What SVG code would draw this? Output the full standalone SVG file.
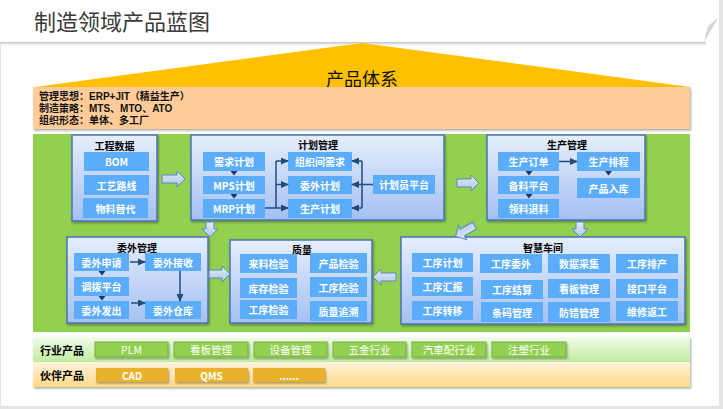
<svg xmlns="http://www.w3.org/2000/svg" width="723" height="409" viewBox="0 0 723 409">
<defs>
  <linearGradient id="gPanel" x1="0" y1="0" x2="0" y2="1">
    <stop offset="0" stop-color="#E6EEFC"/>
    <stop offset="1" stop-color="#A4C0F2"/>
  </linearGradient>
  <linearGradient id="gArrow" x1="0" y1="0" x2="0" y2="1">
    <stop offset="0" stop-color="#E2EBF7"/>
    <stop offset="1" stop-color="#AFC6E8"/>
  </linearGradient>
  <linearGradient id="gInd" x1="0" y1="0" x2="0" y2="1">
    <stop offset="0" stop-color="#F1FBEA"/>
    <stop offset="1" stop-color="#C0EC9F"/>
  </linearGradient>
  <linearGradient id="gPart" x1="0" y1="0" x2="0" y2="1">
    <stop offset="0" stop-color="#FFF3DF"/>
    <stop offset="1" stop-color="#FFD985"/>
  </linearGradient>
  <linearGradient id="gShadow" x1="0" y1="0" x2="0" y2="1">
    <stop offset="0" stop-color="#BDBDBD"/>
    <stop offset="1" stop-color="#FFFFFF" stop-opacity="0"/>
  </linearGradient>
  <linearGradient id="gCurl" x1="0" y1="0" x2="1" y2="1">
    <stop offset="0" stop-color="#F5F5F5"/>
    <stop offset="1" stop-color="#A8A8A8"/>
  </linearGradient>
  <filter id="sh" x="-10%" y="-10%" width="120%" height="130%">
    <feDropShadow dx="1" dy="1.5" stdDeviation="1" flood-color="#000" flood-opacity="0.35"/>
  </filter>
  <marker id="ah" markerWidth="8" markerHeight="7" refX="7" refY="3.5" orient="auto" markerUnits="userSpaceOnUse">
    <path d="M0,0 L8,3.5 L0,7 z" fill="#1F4E79"/>
  </marker>
  <style>
    text { font-family: "Noto Sans CJK SC", "Liberation Sans", sans-serif; }
    .panel { fill: url(#gPanel); stroke: #4A74B8; stroke-width: 1.5; filter: url(#sh); }
    .ptitle { font-size: 10px; font-weight: bold; fill: #000; text-anchor: middle; dominant-baseline: central; }
    .box { fill: #5BADF9; }
    .bt { font-size: 10px; font-weight: bold; fill: #FFFFFF; text-anchor: middle; dominant-baseline: central; }
    .conn { stroke: #1F4E79; stroke-width: 1.5; fill: none; }
    .tri { fill: #1F3864; }
    .barrow { fill: url(#gArrow); stroke: #5B87C5; stroke-width: 1; }
    .ibtn { fill: #92D050; stroke: #7BAF42; stroke-width: 1; filter: url(#sh); }
    .pbtn { fill: #E9B22C; filter: url(#sh); }
    .it { font-size: 10.5px; fill: #FFFFFF; text-anchor: middle; dominant-baseline: central; }
    .pt { font-size: 10px; font-weight: bold; fill: #FFFFFF; text-anchor: middle; dominant-baseline: central; }
    .rowlabel { font-size: 11px; font-weight: bold; fill: #000; dominant-baseline: central; }
    .ot { font-family: "Liberation Sans", "Noto Sans CJK SC", sans-serif; font-size: 10px; font-weight: bold; fill: #111; }
  </style>
</defs>

<!-- background / slide -->
<rect x="0" y="0" width="723" height="409" fill="#E4E4E4"/>
<rect x="1" y="0" width="718" height="406" fill="#FFFFFF"/>

<!-- header -->
<g id="header">
  <rect x="0" y="42" width="706" height="5" fill="url(#gShadow)"/>
  <path d="M0,0 H718 V18 L704,42 H0 Z" fill="#FFFFFF"/>
  <path d="M718,18 L704,42 L708,26 Z" fill="url(#gCurl)"/>
  <text x="34" y="20" font-size="22" fill="#3A3A3A" dominant-baseline="central">制造领域产品蓝图</text>
</g>

<!-- triangle -->
<g id="product-system">
  <polygon points="362,43 35,87 690,87" fill="#FFC000"/>
  <text x="362" y="78" font-size="18" fill="#111" text-anchor="middle" dominant-baseline="central">产品体系</text>
</g>

<!-- orange info box -->
<g id="info">
  <rect x="33" y="87" width="657" height="42" fill="#FFCC99" filter="url(#sh)"/>
  <text class="ot" x="39" y="100"><tspan x="39" y="100">管理思想：ERP+JIT（精益生产）</tspan><tspan x="39" y="112">制造策略：MTS、MTO、ATO</tspan><tspan x="39" y="124">组织形态：单体、多工厂</tspan></text>
</g>

<!-- green area -->
<rect id="green-area" x="33" y="134" width="657" height="198" fill="#92D050"/>

<!-- 工程数据 -->
<g id="engineering">
  <rect class="panel" x="72" y="135" width="85" height="86"/>
  <text class="ptitle" x="114.5" y="145">工程数据</text>
  <rect class="box" x="84" y="152" width="65" height="19"/><text class="bt" x="116.5" y="161.5">BOM</text>
  <rect class="box" x="84" y="175" width="65" height="20"/><text class="bt" x="116.5" y="185">工艺路线</text>
  <rect class="box" x="83" y="198" width="65" height="20"/><text class="bt" x="115.5" y="208">物料替代</text>
</g>

<!-- 计划管理 -->
<g id="planning">
  <rect class="panel" x="191" y="135" width="253" height="85"/>
  <text class="ptitle" x="318" y="144">计划管理</text>
  <rect class="box" x="203" y="152" width="62" height="19"/><text class="bt" x="234" y="161.5">需求计划</text>
  <rect class="box" x="203" y="176" width="62" height="18"/><text class="bt" x="234" y="185">MPS计划</text>
  <rect class="box" x="203" y="199" width="62" height="19"/><text class="bt" x="234" y="208.5">MRP计划</text>
  <rect class="box" x="288" y="152" width="64" height="19"/><text class="bt" x="320" y="161.5">组织间需求</text>
  <rect class="box" x="288" y="176" width="64" height="18"/><text class="bt" x="320" y="185">委外计划</text>
  <rect class="box" x="288" y="199" width="64" height="19"/><text class="bt" x="320" y="208.5">生产计划</text>
  <rect class="box" x="373" y="175" width="62" height="19"/><text class="bt" x="404" y="184.5">计划员平台</text>
</g>

<!-- 生产管理 -->
<g id="production">
  <rect class="panel" x="487" y="135" width="158" height="85"/>
  <text class="ptitle" x="567" y="144">生产管理</text>
  <rect class="box" x="498" y="152" width="61" height="19"/><text class="bt" x="528.5" y="161.5">生产订单</text>
  <rect class="box" x="498" y="176" width="61" height="18"/><text class="bt" x="528.5" y="185">备料平台</text>
  <rect class="box" x="498" y="199" width="61" height="19"/><text class="bt" x="528.5" y="208.5">领料退料</text>
  <rect class="box" x="577" y="152" width="63" height="19"/><text class="bt" x="608.5" y="161.5">生产排程</text>
  <rect class="box" x="577" y="178" width="63" height="20"/><text class="bt" x="608.5" y="188">产品入库</text>
</g>

<!-- 委外管理 -->
<g id="outsourcing">
  <rect class="panel" x="67" y="237" width="141" height="86"/>
  <text class="ptitle" x="137" y="247">委外管理</text>
  <rect class="box" x="74" y="253" width="55" height="18"/><text class="bt" x="101.5" y="262">委外申请</text>
  <rect class="box" x="74" y="277" width="55" height="19"/><text class="bt" x="101.5" y="286.5">调拨平台</text>
  <rect class="box" x="74" y="301" width="55" height="18"/><text class="bt" x="101.5" y="310">委外发出</text>
  <rect class="box" x="145" y="253" width="56" height="18"/><text class="bt" x="173" y="262">委外接收</text>
  <rect class="box" x="145" y="301" width="56" height="18"/><text class="bt" x="173" y="310">委外仓库</text>
</g>

<!-- 质量 -->
<g id="quality">
  <rect class="panel" x="230" y="240" width="142" height="83"/>
  <text class="ptitle" x="302" y="249">质量</text>
  <rect class="box" x="240" y="254" width="57" height="19"/><text class="bt" x="268.5" y="263.5">来料检验</text>
  <rect class="box" x="240" y="278" width="57" height="20"/><text class="bt" x="268.5" y="288">库存检验</text>
  <rect class="box" x="240" y="300" width="57" height="19"/><text class="bt" x="268.5" y="309.5">工序检验</text>
  <rect class="box" x="310" y="253" width="57" height="20"/><text class="bt" x="338.5" y="263">产品检验</text>
  <rect class="box" x="310" y="277" width="57" height="20"/><text class="bt" x="338.5" y="287">工序检验</text>
  <rect class="box" x="310" y="301" width="57" height="20"/><text class="bt" x="338.5" y="311">质量追溯</text>
</g>

<!-- 智慧车间 -->
<g id="workshop">
  <rect class="panel" x="401" y="237" width="284" height="87"/>
  <text class="ptitle" x="543" y="247">智慧车间</text>
  <rect class="box" x="412" y="253" width="61" height="19"/><text class="bt" x="442.5" y="262.5">工序计划</text>
  <rect class="box" x="480" y="254" width="62" height="19"/><text class="bt" x="511" y="263.5">工序委外</text>
  <rect class="box" x="548" y="254" width="62" height="19"/><text class="bt" x="579" y="263.5">数据采集</text>
  <rect class="box" x="616" y="254" width="62" height="19"/><text class="bt" x="647" y="263.5">工序排产</text>
  <rect class="box" x="412" y="277" width="61" height="19"/><text class="bt" x="442.5" y="286.5">工序汇报</text>
  <rect class="box" x="481" y="280" width="62" height="19"/><text class="bt" x="512" y="289.5">工序结算</text>
  <rect class="box" x="548" y="279" width="62" height="19"/><text class="bt" x="579" y="288.5">看板管理</text>
  <rect class="box" x="616" y="279" width="62" height="19"/><text class="bt" x="647" y="288.5">接口平台</text>
  <rect class="box" x="412" y="301" width="61" height="19"/><text class="bt" x="442.5" y="310.5">工序转移</text>
  <rect class="box" x="481" y="302" width="62" height="20"/><text class="bt" x="512" y="312">条码管理</text>
  <rect class="box" x="548" y="302" width="62" height="20"/><text class="bt" x="579" y="312">防错管理</text>
  <rect class="box" x="616" y="301" width="62" height="20"/><text class="bt" x="647" y="311">维修返工</text>
</g>

<!-- connectors -->
<g id="connectors">
  <!-- planning internal -->
  <polygon class="tri" points="230.5,171 237.5,171 234,175.5"/>
  <polygon class="tri" points="230.5,194 237.5,194 234,198.5"/>
  <path class="conn" d="M265,208 H276 M276,161 V208"/>
  <path class="conn" d="M276,161 H288" marker-end="url(#ah)"/>
  <path class="conn" d="M276,184.5 H288" marker-end="url(#ah)"/>
  <path class="conn" d="M276,208 H288" marker-end="url(#ah)"/>
  <path class="conn" d="M373,184.5 H362 M362,161 V208"/>
  <path class="conn" d="M362,161 H352" marker-end="url(#ah)"/>
  <path class="conn" d="M362,184.5 H352" marker-end="url(#ah)"/>
  <path class="conn" d="M362,208 H352" marker-end="url(#ah)"/>
  <!-- production internal -->
  <path class="conn" d="M559,161.5 H577" marker-end="url(#ah)"/>
  <polygon class="tri" points="525.5,171 532.5,171 529,175.5"/>
  <polygon class="tri" points="525.5,194 532.5,194 529,198.5"/>
  <polygon class="tri" points="605,171 612,171 608.5,175.5"/>
  <!-- outsourcing internal -->
  <polygon class="tri" points="98.5,271 105.5,271 102,275.5"/>
  <polygon class="tri" points="98.5,296 105.5,296 102,300.5"/>
  <path class="conn" d="M130,262 H145" marker-end="url(#ah)"/>
  <path class="conn" d="M131,303 H145" marker-end="url(#ah)"/>
  <path class="conn" d="M180,271 V301" marker-end="url(#ah)"/>
  <!-- block arrows between panels -->
  <path class="barrow" d="M162,175 H177 V171 L185,179 L177,187 V183 H162 Z"/>
  <path class="barrow" d="M457,179 H471 V175 L479,183 L471,191 V187 H457 Z"/>
  <path class="barrow" d="M206,222 H214 V229 H218 L210,237 L202,229 H206 Z"/>
  <path class="barrow" d="M209,270 H222 V266 L230,274 L222,282 V278 H209 Z"/>
  <path class="barrow" d="M396,273 H381 V269 L373,277 L381,285 V281 H396 Z"/>
  <path class="barrow" d="M576,222 H584 V229 H588 L580,237 L572,229 H576 Z"/>
  <path class="barrow" transform="translate(465,231) rotate(150)" d="M-11,-4 H3 V-8 L11,0 L3,8 V4 H-11 Z"/>
</g>

<!-- industry products row -->
<g id="industry">
  <rect x="33" y="337" width="657" height="25" fill="url(#gInd)" filter="url(#sh)"/>
  <text class="rowlabel" x="40" y="349.5">行业产品</text>
  <rect class="ibtn" x="95" y="342" width="73" height="15"/><text class="it" x="131.5" y="349.5">PLM</text>
  <rect class="ibtn" x="174" y="342" width="74" height="15"/><text class="it" x="211" y="349.5">看板管理</text>
  <rect class="ibtn" x="254" y="342" width="73" height="15"/><text class="it" x="290.5" y="349.5">设备管理</text>
  <rect class="ibtn" x="333" y="342" width="73" height="15"/><text class="it" x="369.5" y="349.5">五金行业</text>
  <rect class="ibtn" x="412" y="342" width="74" height="15"/><text class="it" x="449" y="349.5">汽車配行业</text>
  <rect class="ibtn" x="492" y="342" width="74" height="15"/><text class="it" x="529" y="349.5">注塑行业</text>
</g>

<!-- partner products row -->
<g id="partner">
  <rect x="33" y="362" width="657" height="25" fill="url(#gPart)" filter="url(#sh)"/>
  <text class="rowlabel" x="40" y="374.5">伙伴产品</text>
  <rect class="pbtn" x="96" y="368" width="72" height="14"/><text class="pt" x="132" y="375">CAD</text>
  <rect class="pbtn" x="175" y="368" width="73" height="14"/><text class="pt" x="211.5" y="375">QMS</text>
  <rect class="pbtn" x="253" y="368" width="72" height="14"/><text class="pt" x="289" y="375">......</text>
</g>
</svg>
